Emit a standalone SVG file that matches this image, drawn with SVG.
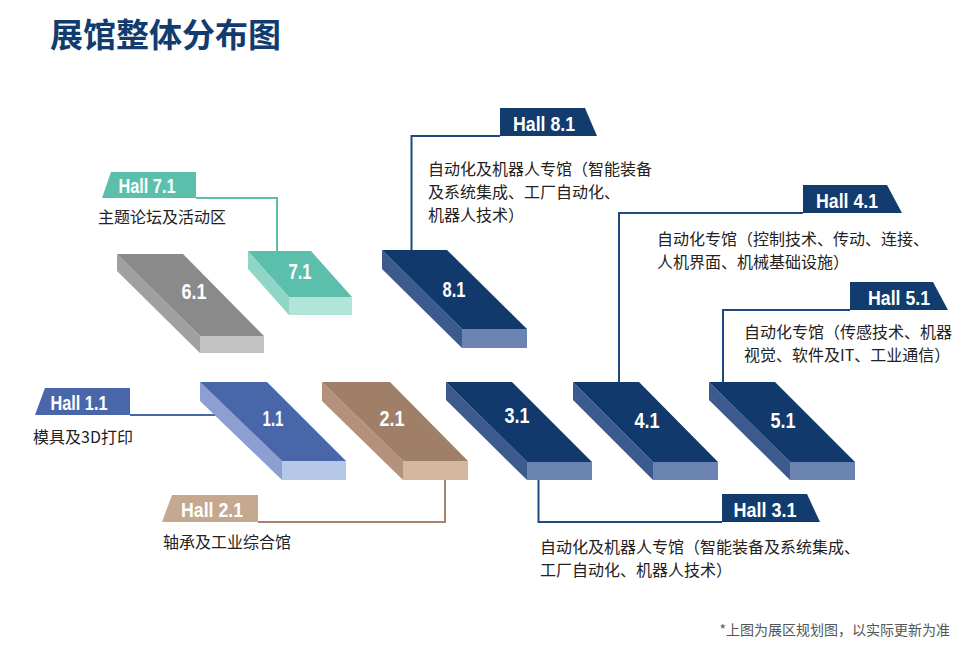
<svg xmlns="http://www.w3.org/2000/svg" width="979" height="653" viewBox="0 0 979 653">
<style>
.title{font-family:"Noto Sans CJK SC","Noto Sans",sans-serif;font-weight:700;font-size:33px;fill:#123c6e}
.body{font-family:"Noto Sans CJK SC","Noto Sans",sans-serif;font-size:16px;fill:#222}
.note{font-family:"Noto Sans CJK SC","Noto Sans",sans-serif;font-size:14px;fill:#555}
.tag{font-family:"Liberation Sans","Noto Sans",sans-serif;font-weight:700;font-size:21px;fill:#fff;text-anchor:middle}
.num{font-family:"Liberation Sans","Noto Sans",sans-serif;font-weight:700;font-size:22px;fill:#fff;text-anchor:middle}
.ln{fill:none;stroke-width:2}
.navyT{fill:#11396c}.navyL{fill:#3c5a8e}.navyF{fill:#6c84b2}
.grayT{fill:#8a8a8a}.grayL{fill:#a0a0a0}.grayF{fill:#c2c2c2}
.tealT{fill:#5bbfac}.tealL{fill:#8fd6c9}.tealF{fill:#b3e4da}
.blueT{fill:#4a66ab}.blueL{fill:#8c9fd0}.blueF{fill:#b6c8e8}
.tanT{fill:#a07f69}.tanL{fill:#b3917b}.tanF{fill:#d3b7a0}
</style>
<text class="title" x="50" y="47">展馆整体分布图</text>

<g id="connectors">
<path class="ln" stroke="#5bbfac" d="M196,198 H277 V252"/>
<path class="ln" stroke="#1f4a80" d="M500,136 H411.5 V251"/>
<path class="ln" stroke="#1f4a80" d="M803,213 H619 V383"/>
<path class="ln" stroke="#1f4a80" d="M850,310 H723 V383"/>
<path class="ln" stroke="#1f4a80" d="M722,522 H538.5 V479"/>
<path class="ln" stroke="#a58570" d="M258,522 H445 V479"/>
<path class="ln" stroke="#4a66ab" d="M130,415 H222"/>
</g>

<g id="hall61">
<polygon class="grayL" points="117,254 200,336 200,353 117,271"/>
<polygon class="grayF" points="200,336 264,336 264,353 200,353"/>
<polygon class="grayT" points="117,254 183,254 264,336 200,336"/>
<text class="num" x="194" y="299" textLength="25" lengthAdjust="spacingAndGlyphs">6.1</text>
</g>

<g id="hall71">
<polygon class="tealL" points="248,251 289,297 289,315 248,269"/>
<polygon class="tealF" points="289,297 352,297 352,315 289,315"/>
<polygon class="tealT" points="248,251 311,251 352,297 289,297"/>
<text class="num" x="300" y="279" textLength="23" lengthAdjust="spacingAndGlyphs">7.1</text>
</g>
<g id="tag71">
<polygon fill="#5bbfac" points="102,198 111,172 196,172 196,198"/>
<text class="tag" x="147" y="193" textLength="57" lengthAdjust="spacingAndGlyphs">Hall 7.1</text>
<text class="body" x="98" y="223">主题论坛及活动区</text>
</g>

<g id="hall81">
<polygon class="navyL" points="382,250 462,329 462,348 382,269"/>
<polygon class="navyF" points="462,329 527,329 527,348 462,348"/>
<polygon class="navyT" points="382,250 447,250 527,329 462,329"/>
<text class="num" x="454" y="297" textLength="23" lengthAdjust="spacingAndGlyphs">8.1</text>
</g>
<g id="tag81">
<polygon fill="#123c6e" points="500,108 585,108 597,136 500,136"/>
<text class="tag" x="544" y="131" textLength="62" lengthAdjust="spacingAndGlyphs">Hall 8.1</text>
<text class="body" x="428" y="175">自动化及机器人专馆（智能装备</text>
<text class="body" x="428" y="198">及系统集成、工厂自动化、</text>
<text class="body" x="428" y="221">机器人技术）</text>
</g>

<g id="hall11">
<polygon class="blueL" points="200,382 282,461 282,480 200,401"/>
<polygon class="blueF" points="282,461 346,461 346,480 282,480"/>
<polygon class="blueT" points="200,382 267,382 346,461 282,461"/>
<text class="num" x="273" y="426" textLength="21" lengthAdjust="spacingAndGlyphs">1.1</text>
</g>
<g id="tag11">
<polygon fill="#4a66ab" points="35,415 45,388 130,388 130,415"/>
<text class="tag" x="79" y="410" textLength="57" lengthAdjust="spacingAndGlyphs">Hall 1.1</text>
<text class="body" x="33" y="443">模具及3D打印</text>
</g>

<g id="hall21">
<polygon class="tanL" points="322,382 403,461 403,480 322,401"/>
<polygon class="tanF" points="403,461 468,461 468,480 403,480"/>
<polygon class="tanT" points="322,382 390,382 468,461 403,461"/>
<text class="num" x="392" y="426" textLength="25" lengthAdjust="spacingAndGlyphs">2.1</text>
</g>
<g id="tag21">
<polygon fill="#c4a88f" points="162,522 172,495 258,495 258,522"/>
<text class="tag" x="212" y="517" textLength="62" lengthAdjust="spacingAndGlyphs">Hall 2.1</text>
<text class="body" x="163" y="548">轴承及工业综合馆</text>
</g>

<g id="hall31">
<polygon class="navyL" points="446,382 527,462 527,480 446,400"/>
<polygon class="navyF" points="527,462 592,462 592,480 527,480"/>
<polygon class="navyT" points="446,382 512,382 592,462 527,462"/>
<text class="num" x="517" y="423" textLength="25" lengthAdjust="spacingAndGlyphs">3.1</text>
</g>
<g id="tag31">
<polygon fill="#123c6e" points="722,494 807,494 820,522 722,522"/>
<text class="tag" x="765" y="517" textLength="63" lengthAdjust="spacingAndGlyphs">Hall 3.1</text>
<text class="body" x="540" y="553">自动化及机器人专馆（智能装备及系统集成、</text>
<text class="body" x="540" y="576">工厂自动化、机器人技术）</text>
</g>

<g id="hall41">
<polygon class="navyL" points="573,382 653,462 653,480 573,400"/>
<polygon class="navyF" points="653,462 718,462 718,480 653,480"/>
<polygon class="navyT" points="573,382 639,382 718,462 653,462"/>
<text class="num" x="647" y="428" textLength="25" lengthAdjust="spacingAndGlyphs">4.1</text>
</g>
<g id="tag41">
<polygon fill="#123c6e" points="803,185 887,185 902,213 803,213"/>
<text class="tag" x="847" y="208" textLength="62" lengthAdjust="spacingAndGlyphs">Hall 4.1</text>
<text class="body" x="657" y="245">自动化专馆（控制技术、传动、连接、</text>
<text class="body" x="657" y="268">人机界面、机械基础设施）</text>
</g>

<g id="hall51">
<polygon class="navyL" points="709,382 790,462 790,480 709,400"/>
<polygon class="navyF" points="790,462 855,462 855,480 790,480"/>
<polygon class="navyT" points="709,382 775,382 855,462 790,462"/>
<text class="num" x="783" y="428" textLength="25" lengthAdjust="spacingAndGlyphs">5.1</text>
</g>
<g id="tag51">
<polygon fill="#123c6e" points="850,282 933,282 948,310 850,310"/>
<text class="tag" x="899" y="305" textLength="62" lengthAdjust="spacingAndGlyphs">Hall 5.1</text>
<text class="body" x="744" y="338">自动化专馆（传感技术、机器</text>
<text class="body" x="744" y="361">视觉、软件及IT、工业通信）</text>
</g>

<text class="note" x="950" y="635" text-anchor="end">*上图为展区规划图，以实际更新为准</text>
</svg>
